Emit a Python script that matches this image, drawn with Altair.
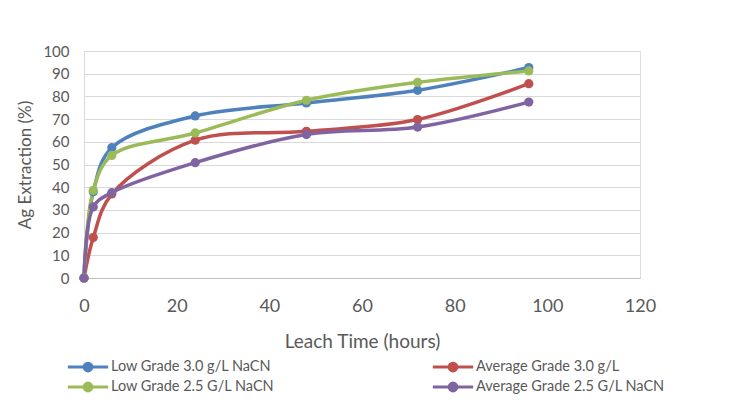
import altair as alt
import pandas as pd

hours = [0, 2, 6, 24, 48, 72, 96]
series_names = [
    "Low Grade 3.0 g/L NaCN",
    "Average Grade 3.0 g/L",
    "Low Grade 2.5 G/L NaCN",
    "Average Grade 2.5 G/L NaCN",
]
low_30 = [0, 38.0, 57.4, 71.4, 77.1, 82.7, 92.7]
avg_30 = [0, 17.8, 37.0, 60.7, 64.6, 69.8, 85.6]
low_25 = [0, 38.6, 54.0, 63.9, 78.3, 86.2, 91.2]
avg_25 = [0, 31.3, 37.6, 50.8, 63.2, 66.5, 77.5]
colors = ["#4F81BD", "#C0504D", "#9BBB59", "#8064A2"]

rows = []
for i, (name, vals) in enumerate(zip(series_names, [low_30, avg_30, low_25, avg_25])):
    for h, v in zip(hours, vals):
        rows.append({"Series": name, "Hours": h, "Extraction": v, "ord": i})
df = pd.DataFrame(rows)

FONT = "Lato"
TXT = "#595959"

color = alt.Color(
    "Series:N",
    scale=alt.Scale(domain=series_names, range=colors),
    legend=alt.Legend(
        title=None,
        orient="none",
        direction="horizontal",
        legendX=-4,
        legendY=308,
        columns=2,
        columnPadding=151,
        rowPadding=0,
        symbolType="M-3.1,0L3.1,0M-0.6,0A0.6,0.6 0 1,1 0.6,0A0.6,0.6 0 1,1 -0.6,0Z",
        symbolSize=169,
        symbolStrokeWidth=3,
        labelFont=FONT,
        labelFontSize=14.5,
        labelColor=TXT,
        labelOffset=15,
        labelLimit=300,
        symbolOpacity=1,
    ),
)

base = alt.Chart(df).encode(
    x=alt.X(
        "Hours:Q",
        scale=alt.Scale(domain=[0, 120], nice=False),
        axis=alt.Axis(
            title="Leach Time (hours)",
            values=[0, 20, 40, 60, 80, 100, 120],
            grid=False,
            ticks=False,
            labelFlush=False,
            domainColor="#BFBFBF",
            labelFont=FONT,
            titleFont=FONT,
            labelColor=TXT,
            titleColor=TXT,
            labelFontSize=18,
            labelPadding=19,
            titleFontSize=19,
            titleFontWeight="normal",
            titlePadding=17,
        ),
    ),
    y=alt.Y(
        "Extraction:Q",
        scale=alt.Scale(domain=[0, 100], nice=False),
        axis=alt.Axis(
            title="Ag Extraction (%)",
            values=list(range(0, 101, 10)),
            grid=True,
            gridColor="#D9D9D9",
            ticks=False,
            domainColor="#D9D9D9",
            labelFont=FONT,
            titleFont=FONT,
            labelColor=TXT,
            titleColor=TXT,
            labelFontSize=15,
            labelPadding=15,
            titleFontSize=17,
            titleFontWeight="normal",
            titlePadding=8,
        ),
    ),
    color=color,
    order="ord:Q",
)

lines = base.mark_line(interpolate="catmull-rom", strokeWidth=3.5)
points = base.mark_circle(size=85, opacity=1)

chart = (
    alt.layer(lines, points)
    .properties(
        width=556,
        height=227,
        autosize=alt.AutoSizeParams(type="none"),
        padding={"left": 76, "top": 43, "right": 81, "bottom": 120},
    )
    .configure_view(stroke=None)
    .configure(background="white")
)

chart.save("out.html", embed_options={"renderer": "svg", "actions": False})
